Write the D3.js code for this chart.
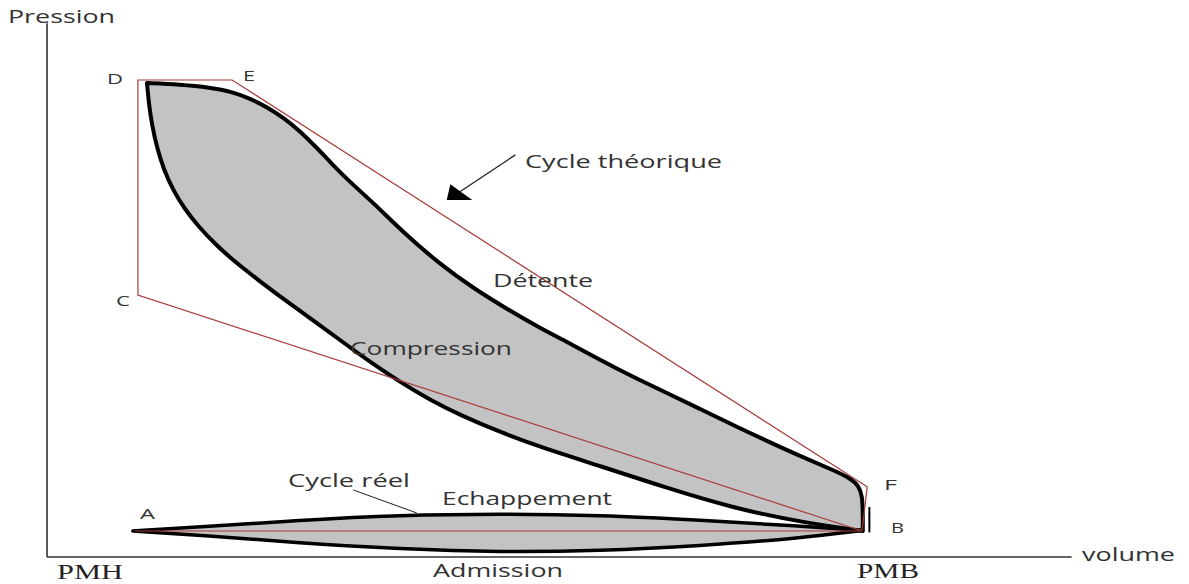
<!DOCTYPE html>
<html>
<head>
<meta charset="utf-8">
<script src="https://cdn.jsdelivr.net/npm/d3@7/dist/d3.min.js"></script>
<style>
  html, body { margin: 0; padding: 0; background: #fff; }
  svg { display: block; }
  text { font-family: "Open Sans", sans-serif; fill: #333; }
</style>
</head>
<body>
<svg id="chart" width="1189" height="584"></svg>
<script>
// ---- Data (volume 0 = PMH, 100 = PMB ; pressure 0 = atmospheric, 100 = max) ----
const detenteVolume   = [1.64, 6.16, 10.27, 13.42, 15.75, 18.08, 20.41, 22.60, 24.93, 27.12, 29.45, 32.60, 37.26, 41.78, 46.30, 50.96, 55.48, 60.0, 63.70, 68.22, 72.88, 77.40, 81.92, 86.58, 91.10, 95.62, 97.95, 99.18, 99.6, 99.7, 99.7];
const detentePressure = [99.33, 99.0, 98.34, 97.34, 95.90, 94.01, 91.57, 88.69, 84.92, 81.15, 77.38, 72.84, 65.41, 59.20, 53.88, 49.22, 45.01, 41.24, 37.92, 34.15, 30.60, 27.05, 23.50, 19.96, 16.63, 13.53, 11.75, 9.98, 7.76, 4.66, 0];

const compressionVolume   = [99.7, 91.10, 81.92, 72.88, 63.70, 55.48, 50.0, 44.52, 40.41, 36.30, 32.19, 28.08, 23.97, 20.14, 16.71, 13.70, 10.96, 8.63, 6.71, 5.21, 3.97, 3.01, 2.33, 1.92, 1.64];
const compressionPressure = [0, 2.0, 5.10, 9.53, 14.41, 18.63, 21.95, 25.72, 29.05, 33.04, 37.47, 42.35, 47.23, 51.66, 55.88, 59.65, 63.64, 67.63, 71.62, 75.61, 80.04, 84.92, 90.02, 94.46, 99.33];

const echappementVolume   = [-0.3, 8.9, 22.6, 36.3, 50.0, 63.7, 77.4, 91.1, 99.6];
const echappementPressure = [0, 0.9, 2.4, 3.5, 3.8, 3.5, 2.4, 1.1, 0.1];
const admissionVolume     = [99.6, 91.1, 77.4, 63.7, 50.0, 36.3, 22.6, 8.9, -0.3];
const admissionPressure   = [0.1, -1.6, -3.3, -4.4, -4.7, -4.0, -2.7, -0.9, 0];

// Theoretical cycle: A, B, C, D, E, F, B
const theoLabels   = ["A", "B", "C", "D", "E", "F", "B"];
const theoVolume   = [0, 99.6, 0.4, 0.4, 13.3, 100.3, 99.6];
const theoPressure = [0, 0, 52.3, 100, 100, 9.8, 0];

const axisVolume   = [-12.05, 128.3];
const axisPressure = [-5.76, 112.6];

// ---- Scales ----
const x = d3.scaleLinear().domain([0, 100]).range([135, 865]);
const y = d3.scaleLinear().domain([0, 100]).range([531, 80]);

const svg = d3.select("#chart");

// Axes (no ticks)
svg.append("line")
  .attr("x1", x(axisVolume[0])).attr("y1", y(axisPressure[1]))
  .attr("x2", x(axisVolume[0])).attr("y2", y(axisPressure[0]))
  .attr("stroke", "#333").attr("stroke-width", 1.6);
svg.append("line")
  .attr("x1", x(axisVolume[0])).attr("y1", y(axisPressure[0]))
  .attr("x2", x(axisVolume[1])).attr("y2", y(axisPressure[0]))
  .attr("stroke", "#333").attr("stroke-width", 1.6);

const line = d3.line().x(d => x(d[0])).y(d => y(d[1])).curve(d3.curveBasis);

// Real cycle main loop (détente + compression)
const upperPts = detenteVolume.map((v, i) => [v, detentePressure[i]]);
const lowerPts = compressionVolume.map((v, i) => [v, compressionPressure[i]]);
svg.append("path")
  .attr("d", line(upperPts) + line(lowerPts).replace(/^M/, "L") + "Z")
  .attr("fill", "#c3c3c3").attr("stroke", "#000").attr("stroke-width", 4)
  .attr("stroke-linejoin", "round");

// Pumping loop (échappement + admission)
const lensPts = echappementVolume.map((v, i) => [v, echappementPressure[i]]);
const lensPts2 = admissionVolume.map((v, i) => [v, admissionPressure[i]]);
svg.append("path")
  .attr("d", line(lensPts) + line(lensPts2).replace(/^M/, "L") + "Z")
  .attr("fill", "#c3c3c3").attr("stroke", "#000").attr("stroke-width", 3.5)
  .attr("stroke-linejoin", "round");

// Theoretical cycle (thin red)
const theo = d3.line().x(d => x(d[0])).y(d => y(d[1]));
svg.append("path")
  .attr("d", theo(theoVolume.map((v, i) => [v, theoPressure[i]])))
  .attr("fill", "none").attr("stroke", "#a83a3a").attr("stroke-width", 1.2);

// Small vertical mark near B
svg.append("line")
  .attr("x1", x(100.6)).attr("x2", x(100.6))
  .attr("y1", y(5.3)).attr("y2", y(-0.3))
  .attr("stroke", "#000").attr("stroke-width", 2);

// Arrow pointing to theoretical cycle
svg.append("line")
  .attr("x1", x(52.1)).attr("y1", y(83.4))
  .attr("x2", x(44.2)).attr("y2", y(74.9))
  .attr("stroke", "#222").attr("stroke-width", 1.3);
svg.append("path")
  .attr("d", d3.line()([[x(42.7), y(73.4)], [x(43.2), y(76.9)], [x(46.2), y(73.4)]]) + "Z")
  .attr("fill", "#000");

// Pointer for "Cycle réel"
svg.append("line")
  .attr("x1", x(29.9)).attr("y1", y(9.1))
  .attr("x2", x(38.6)).attr("y2", y(4.0))
  .attr("stroke", "#222").attr("stroke-width", 1);

// Text labels (stretched horizontally like the source picture)
const labels = [
  {t: "Pression", x: 8, y: 23, s: 18, w: 107},
  {t: "Cycle théorique", x: 525, y: 168, s: 18, w: 197},
  {t: "Détente", x: 493, y: 287, s: 18, w: 100},
  {t: "Compression", x: 350, y: 355, s: 18, w: 162},
  {t: "Cycle réel", x: 288, y: 487, s: 18, w: 122},
  {t: "Echappement", x: 442, y: 505, s: 18, w: 170},
  {t: "Admission", x: 433, y: 577, s: 18, w: 130},
  {t: "volume", x: 1082, y: 561, s: 18, w: 93},
  {t: "D", x: 107, y: 84, s: 15, w: 16},
  {t: "E", x: 243, y: 81, s: 15, w: 12},
  {t: "C", x: 116, y: 306, s: 15, w: 14},
  {t: "F", x: 884, y: 490, s: 15, w: 13},
  {t: "B", x: 891, y: 533, s: 15, w: 13},
  {t: "A", x: 140, y: 519, s: 15, w: 15}
];
svg.selectAll("text.lbl").data(labels).enter().append("text")
  .attr("class", "lbl")
  .attr("x", d => d.x).attr("y", d => d.y)
  .attr("font-size", d => d.s)
  .attr("textLength", d => d.w).attr("lengthAdjust", "spacingAndGlyphs")
  .text(d => d.t);

const serifLabels = [
  {t: "PMH", x: 57, y: 579, w: 66},
  {t: "PMB", x: 857, y: 578, w: 62}
];
svg.selectAll("text.serif").data(serifLabels).enter().append("text")
  .attr("class", "serif")
  .attr("x", d => d.x).attr("y", d => d.y)
  .attr("font-size", 21)
  .attr("textLength", d => d.w).attr("lengthAdjust", "spacingAndGlyphs")
  .style("font-family", "'Liberation Serif', serif")
  .style("fill", "#222")
  .text(d => d.t);
</script>
</body>
</html>
